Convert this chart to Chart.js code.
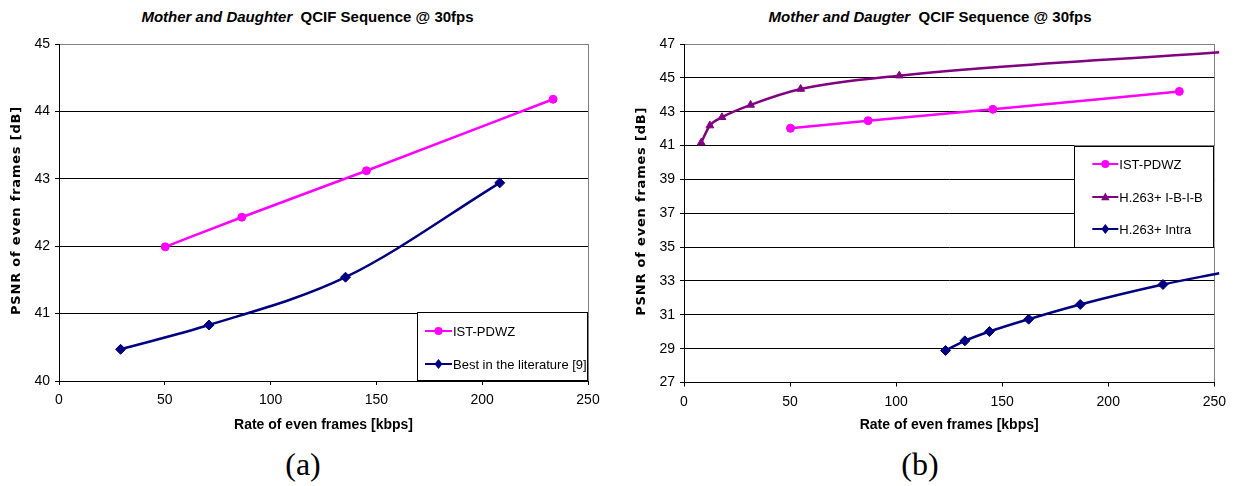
<!DOCTYPE html>
<html>
<head>
<meta charset="utf-8">
<script src="https://cdn.jsdelivr.net/npm/chart.js@4/dist/chart.umd.min.js"></script>
<style>
  body { margin: 0; background: #fff; width: 1233px; height: 486px; position: relative; overflow: hidden; }
  canvas { position: absolute; top: 0; }
  .title { position: absolute; top: 8px; text-align: center; font: bold 15px "Liberation Sans Narrow", "Liberation Sans", sans-serif; line-height: 18px; color: #000; }
  .title i { font-style: italic; }
  .caption { position: absolute; top: 446px; text-align: center; font: 32px "Liberation Serif", "Times New Roman", serif; line-height: 36px; color: #000; }
</style>
</head>
<body>
<div class="title" style="left:0;width:615px"><i>Mother and Daughter</i>&nbsp; QCIF Sequence @ 30fps</div>
<div class="title" style="left:622px;width:616px"><i>Mother and Daugter</i>&nbsp; QCIF Sequence @ 30fps</div>
<canvas id="chartA" width="615" height="445" style="left:0"></canvas>
<canvas id="chartB" width="616" height="445" style="left:617px"></canvas>
<div class="caption" style="left:0;width:606px">(a)</div>
<div class="caption" style="left:617px;width:606px">(b)</div>
<script>
// rate axis (kbps), shared by both plots
const rateTicks = [0, 50, 100, 150, 200, 250];

// plot (a)
const psnrTicksA = [40, 41, 42, 43, 44, 45];
const pdwzRateA = [50.2, 86.4, 145.3, 233.5];
const pdwzPsnrA = [41.99, 42.43, 43.12, 44.18];
const litRate = [29.1, 70.9, 135.4, 208.3];
const litPsnr = [40.47, 40.83, 41.54, 42.94];

// plot (b)
const psnrTicksB = [27, 29, 31, 33, 35, 37, 39, 41, 43, 45, 47];
const pdwzRateB = [50.2, 86.8, 145.6, 233.5];
const pdwzPsnrB = [42.02, 42.47, 43.14, 44.20];
const ibibRate = [8.1, 12.2, 17.9, 31.4, 55.0, 101.5, 252.3];
const ibibPsnr = [41.17, 42.18, 42.67, 43.40, 44.34, 45.13, 46.51];
const intraRate = [123.3, 132.4, 144.0, 162.5, 186.8, 225.8, 252.3];
const intraPsnr = [28.89, 29.46, 30.01, 30.74, 31.61, 32.79, 33.46];

const FONT = '"Liberation Sans Narrow", "Liberation Sans", sans-serif';

function toPoints(xs, ys) {
  return xs.map((x, i) => ({ x: x, y: ys[i] }));
}

function series(label, xs, ys, color, style, radius, lastHidden) {
  return {
    label: label,
    data: toPoints(xs, ys),
    borderColor: color,
    backgroundColor: color,
    pointBackgroundColor: color,
    pointBorderColor: color,
    borderWidth: 2.5,
    pointStyle: style,
    pointRadius: xs.map((x, i) => (lastHidden && i === xs.length - 1 ? 0 : radius)),
    markerRadius: radius,
    pointBorderWidth: 1,
    cubicInterpolationMode: 'monotone',
    clip: false,
  };
}

function drawMarker(ctx, style, r, x, y) {
  ctx.beginPath();
  if (style === 'circle') {
    ctx.arc(x, y, r, 0, Math.PI * 2);
  } else if (style === 'triangle') {
    ctx.moveTo(x, y - r);
    ctx.lineTo(x + r * 0.95, y + r * 0.7);
    ctx.lineTo(x - r * 0.95, y + r * 0.7);
    ctx.closePath();
  } else {
    ctx.moveTo(x, y - r);
    ctx.lineTo(x + r * 0.8, y);
    ctx.lineTo(x, y + r);
    ctx.lineTo(x - r * 0.8, y);
    ctx.closePath();
  }
  ctx.fill();
}

// rotated, letter-spaced y axis title
const yTitle = {
  id: 'yTitle',
  afterDraw(chart, args, opts) {
    const { ctx, chartArea } = chart;
    ctx.save();
    ctx.font = 'bold 13px "DejaVu Sans", sans-serif';
    ctx.letterSpacing = '0.8px';
    ctx.fillStyle = '#000';
    ctx.textAlign = 'center';
    ctx.textBaseline = 'middle';
    ctx.translate(chartArea.left - 42, (chartArea.top + chartArea.bottom) / 2 - 2);
    ctx.rotate(-Math.PI / 2);
    ctx.fillText(opts.text, 0, 0);
    ctx.restore();
  }
};

// boxed legend sitting inside the plot area, right aligned
const boxLegend = {
  id: 'boxLegend',
  afterDatasetsDraw(chart, args, opts) {
    const { ctx, chartArea } = chart;
    const left = chartArea.right - opts.width;
    const top = opts.top == null ? chartArea.bottom - opts.height : chartArea.top + opts.top;
    ctx.save();
    ctx.fillStyle = '#fff';
    ctx.fillRect(left, top, opts.width, opts.height);
    ctx.strokeStyle = '#000';
    ctx.lineWidth = 1;
    ctx.strokeRect(Math.round(left) + 0.5, Math.round(top) + 0.5, opts.width - 1, opts.height - 1);
    ctx.font = '13px ' + FONT;
    ctx.textBaseline = 'middle';
    chart.data.datasets.forEach((ds, i) => {
      const y = Math.round(top + opts.first + i * opts.gap);
      const x0 = left + opts.sampleX;
      const x1 = x0 + opts.sampleW;
      ctx.strokeStyle = ds.borderColor;
      ctx.lineWidth = 2;
      ctx.beginPath();
      ctx.moveTo(x0, y);
      ctx.lineTo(x1, y);
      ctx.stroke();
      ctx.fillStyle = ds.borderColor;
      drawMarker(ctx, ds.pointStyle, ds.markerRadius, (x0 + x1) / 2, y);
      ctx.fillStyle = '#000';
      ctx.fillText(ds.label, x1 + 1, y + 1);
    });
    ctx.restore();
  }
};

function makeChart(id, datasets, yTicks, yWidth, xHeight, padRight, legendOpts) {
  const yMax = yTicks[yTicks.length - 1];
  const xMax = rateTicks[rateTicks.length - 1];
  return new Chart(document.getElementById(id), {
    type: 'line',
    data: { datasets: datasets },
    options: {
      responsive: false,
      animation: false,
      devicePixelRatio: 1,
      events: [],
      layout: { padding: { top: 44, right: padRight, left: 0, bottom: 0 } },
      scales: {
        x: {
          type: 'linear',
          min: rateTicks[0],
          max: xMax,
          afterBuildTicks: s => { s.ticks = rateTicks.map(v => ({ value: v })); },
          afterFit: s => { s.height = xHeight; },
          ticks: { color: '#000', font: { family: FONT, size: 14 }, padding: 7, maxRotation: 0 },
          grid: {
            drawOnChartArea: true,
            color: c => (c.tick && c.tick.value === xMax ? '#808080' : 'rgba(0,0,0,0)'),
            tickColor: '#000',
            tickLength: 4,
            lineWidth: 1,
          },
          border: { color: '#000', width: 1 },
          title: {
            display: true,
            text: 'Rate of even frames [kbps]',
            color: '#000',
            font: { family: FONT, size: 14, weight: 'bold' },
            padding: { top: 0, bottom: 11 },
          },
        },
        y: {
          type: 'linear',
          min: yTicks[0],
          max: yMax,
          afterBuildTicks: s => { s.ticks = yTicks.map(v => ({ value: v })); },
          afterFit: s => { s.width = yWidth; },
          ticks: { color: '#000', font: { family: FONT, size: 14 }, padding: 5 },
          grid: {
            color: c => (c.tick && c.tick.value === yMax ? '#808080' : '#000'),
            tickColor: '#000',
            tickLength: 4,
            lineWidth: 1,
          },
          border: { color: '#000', width: 1 },
        },
      },
      plugins: {
        legend: { display: false },
        tooltip: { enabled: false },
        yTitle: { text: 'PSNR of even frames [dB]' },
        boxLegend: legendOpts,
      },
    },
    plugins: [yTitle, boxLegend],
  });
}

makeChart('chartA', [
  series('IST-PDWZ', pdwzRateA, pdwzPsnrA, '#FF00FF', 'circle', 4, false),
  series('Best in the literature [9]', litRate, litPsnr, '#000080', 'rectRot', 5, false),
], psnrTicksA, 59, 64, 27, { width: 171, height: 69, first: 19, gap: 33, sampleX: 8, sampleW: 27 });

makeChart('chartB', [
  series('IST-PDWZ', pdwzRateB, pdwzPsnrB, '#FF00FF', 'circle', 4, false),
  series('H.263+ I-B-I-B', ibibRate, ibibPsnr, '#800080', 'triangle', 4.5, true),
  series('H.263+ Intra', intraRate, intraPsnr, '#000080', 'rectRot', 5, true),
], psnrTicksB, 67, 62.5, 17.5, { width: 140, height: 102, top: 101.5, first: 18.5, gap: 32.7, sampleX: 18, sampleW: 26 });
</script>
</body>
</html>
